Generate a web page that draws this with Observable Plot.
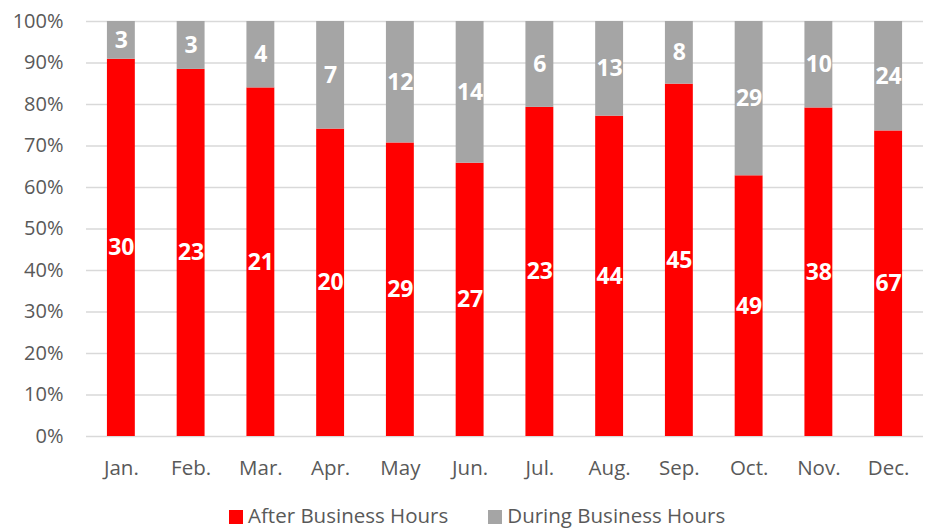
<!DOCTYPE html>
<html>
<head>
<meta charset="utf-8">
<script src="https://cdn.jsdelivr.net/npm/d3@7"></script>
<script src="https://cdn.jsdelivr.net/npm/@observablehq/plot@0.6"></script>
<style>
  html, body { margin: 0; padding: 0; background: #fff; }
  #wrap { position: relative; width: 933px; height: 531px; font-family: "Open Sans", sans-serif; }
  #legend { position: absolute; left: 229px; top: 502px; display: flex; align-items: center; font-size: 20.5px; color: #595959; line-height: 26px; white-space: nowrap; }
  .item { display: flex; align-items: center; }
  .sw { width: 14px; height: 14px; margin-right: 5px; margin-top: 3px; }
</style>
</head>
<body>
<div id="wrap">
  <div id="chart"></div>
  <div id="legend"></div>
</div>
<script>
const months = ["Jan.", "Feb.", "Mar.", "Apr.", "May", "Jun.", "Jul.", "Aug.", "Sep.", "Oct.", "Nov.", "Dec."];
const afterHours = [30, 23, 21, 20, 29, 27, 23, 44, 45, 49, 38, 67];
const duringHours = [3, 3, 4, 7, 12, 14, 6, 13, 8, 29, 10, 24];
const seriesNames = ["After Business Hours", "During Business Hours"];
const seriesColors = ["#FF0000", "#A5A5A5"];
const yTicks = [0, 0.1, 0.2, 0.3, 0.4, 0.5, 0.6, 0.7, 0.8, 0.9, 1.0];

const data = [];
months.forEach((m, i) => {
  data.push({month: m, series: seriesNames[0], value: afterHours[i]});
  data.push({month: m, series: seriesNames[1], value: duringHours[i]});
});

const stackOpts = {x: "month", y: "value", z: "series", offset: "normalize", order: seriesNames};

const chart = Plot.plot({
  width: 933,
  height: 500,
  marginTop: 21,
  marginBottom: 64,
  marginLeft: 86,
  marginRight: 10,
  style: {fontFamily: "'Open Sans', sans-serif", fontSize: "20px", color: "#595959", background: "#fff"},
  x: {domain: months, paddingInner: 0.6, paddingOuter: 0.3, round: false, label: null},
  y: {domain: [0, 1], label: null},
  color: {domain: seriesNames, range: seriesColors},
  marks: [
    Plot.ruleY(yTicks, {stroke: "#D9D9D9", strokeWidth: 1.5}),
    Plot.barY(data, Plot.stackY({...stackOpts, fill: "series"})),
    Plot.text(data, Plot.stackY({...stackOpts, text: "value", fill: "white", fontWeight: "bold", fontSize: 23})),
    Plot.axisY({ticks: yTicks, tickFormat: d => Math.round(d * 100) + "%", tickSize: 0, tickPadding: 23, label: null, fill: "#595959", fontSize: 20}),
    Plot.axisX({tickSize: 0, tickPadding: 24, label: null, fill: "#595959", fontSize: 20.5})
  ]
});
document.getElementById("chart").appendChild(chart);

const legend = document.getElementById("legend");
seriesNames.forEach((name, i) => {
  const item = document.createElement("div");
  item.className = "item";
  if (i > 0) item.style.marginLeft = "40px";
  const sw = document.createElement("span");
  sw.className = "sw";
  sw.style.background = seriesColors[i];
  const label = document.createElement("span");
  label.textContent = name;
  item.appendChild(sw);
  item.appendChild(label);
  legend.appendChild(item);
});
</script>
</body>
</html>
